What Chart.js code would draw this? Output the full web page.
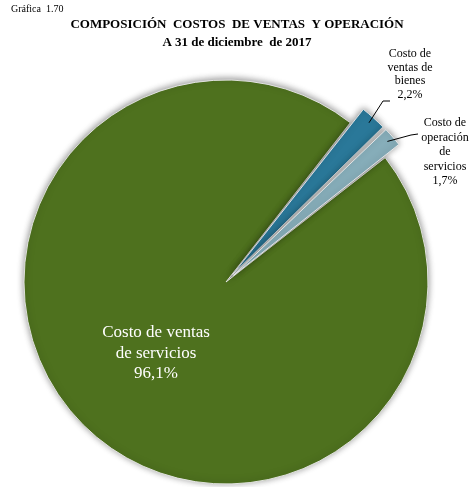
<!DOCTYPE html>
<html>
<head>
<meta charset="utf-8">
<script src="https://cdn.jsdelivr.net/npm/chart.js@4.4.1/dist/chart.umd.min.js"></script>
<style>
  body { margin: 0; background: #fff; }
  canvas { display: block; }
</style>
</head>
<body>
<canvas id="pieChart" width="472" height="487"></canvas>
<script>
// data, clockwise starting right after the two small slices
const categories = ['Costo de ventas de servicios', 'Costo de ventas de bienes', 'Costo de operación de servicios'];
const shares = [96.1, 2.2, 1.7];
const labelLines = [
    ['Costo de ventas', 'de servicios'],
    ['Costo de', 'ventas de', 'bienes'],
    ['Costo de', 'operación', 'de', 'servicios']
];
const sliceColors = ['#4e711e', '#2a7899', '#87aeba'];
const explode = [0, 40, 40];

const serif = "'Liberation Serif', 'Times New Roman', serif";
const pct = v => v.toFixed(1).replace('.', ',') + '%';

// soft shadow round the pie
const shadowPlugin = {
    id: 'pieShadow',
    beforeDatasetsDraw(chart) {
        const c = chart.ctx;
        c.save();
        c.shadowColor = 'rgba(0,0,0,0.45)';
        c.shadowBlur = 7;
        c.shadowOffsetY = -1;
    },
    afterDatasetsDraw(chart) {
        chart.ctx.restore();
    }
};

// titles, slice labels and leader lines
const textPlugin = {
    id: 'pieText',
    afterDraw(chart) {
        const c = chart.ctx;
        const arcs = chart.getDatasetMeta(0).data;
        c.save();
        c.textAlign = 'left';
        c.textBaseline = 'alphabetic';
        c.fillStyle = '#000';
        c.font = '10px ' + serif;
        c.fillText('Gráfica  1.70', 11, 12);

        c.textAlign = 'center';
        c.font = 'bold 13px ' + serif;
        c.fillText('COMPOSICIÓN  COSTOS  DE VENTAS  Y OPERACIÓN', 237, 28);
        c.fillText('A 31 de diciembre  de 2017', 237, 46);

        // big slice label, inside
        c.fillStyle = '#fff';
        c.font = '17px ' + serif;
        [...labelLines[0], pct(shares[0])].forEach((t, i) => c.fillText(t, 156, 337 + i * 20.5));

        // small slices, outside
        c.fillStyle = '#000';
        c.font = '12px ' + serif;
        [...labelLines[1], pct(shares[1])].forEach((t, i) => c.fillText(t, 410, 57 + i * 13.6));
        [...labelLines[2], pct(shares[2])].forEach((t, i) => c.fillText(t, 445, 126 + i * 14.6));

        const elbows = [null, [[383, 101], [390, 101]], [[411, 135], [418, 134]]];
        c.strokeStyle = '#000';
        c.lineWidth = 1;
        [1, 2].forEach(i => {
            const a = arcs[i];
            const mid = (a.startAngle + a.endAngle) / 2;
            const r = a.outerRadius + explode[i] / 4 + 2;
            c.beginPath();
            c.moveTo(a.x + Math.cos(mid) * r, a.y + Math.sin(mid) * r);
            elbows[i].forEach(p => c.lineTo(p[0], p[1]));
            c.stroke();
        });
        c.restore();
    }
};

new Chart(document.getElementById('pieChart'), {
    type: 'pie',
    data: {
        labels: categories,
        datasets: [{
            data: shares,
            backgroundColor: sliceColors,
            borderColor: 'rgba(235,235,235,0.9)',
            borderWidth: 1,
            offset: explode
        }]
    },
    options: {
        responsive: false,
        animation: false,
        events: [],
        rotation: 52,
        radius: 202,
        layout: { padding: { left: 0, right: 20, top: 77, bottom: 0 } },
        plugins: {
            legend: { display: false },
            tooltip: { enabled: false },
            title: { display: false }
        }
    },
    plugins: [shadowPlugin, textPlugin]
});
</script>
</body>
</html>
